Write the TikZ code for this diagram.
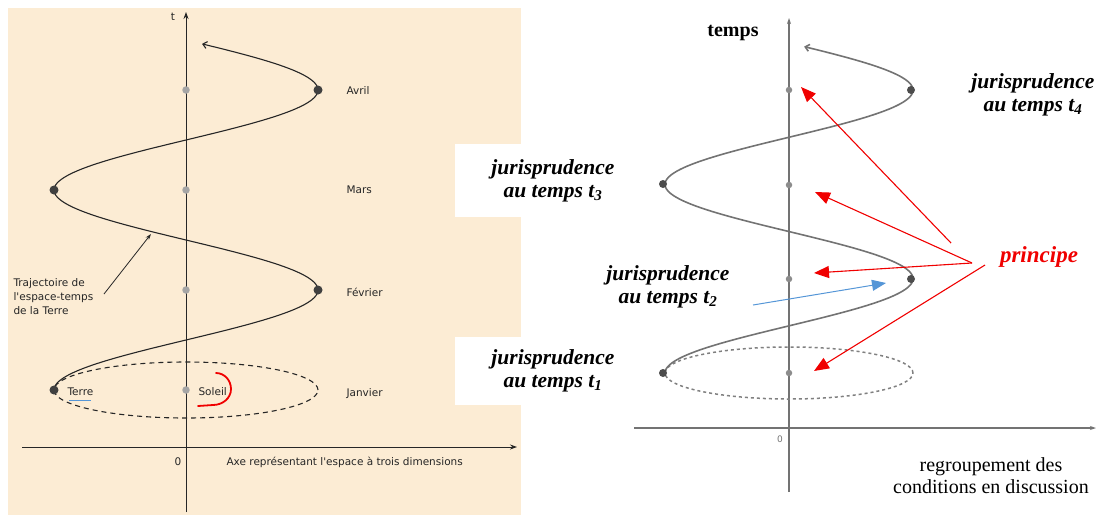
\documentclass[tikz,border=0pt]{standalone}
\usepackage{fontspec}
\setmainfont{Liberation Serif}
\newfontfamily\scanfont{DejaVu Sans}
\usetikzlibrary{arrows.meta}
\definecolor{beige}{RGB}{252,236,212}
\definecolor{rouge}{RGB}{240,0,0}
\definecolor{bleu}{RGB}{85,150,215}

\begin{document}
\begin{tikzpicture}[x=1pt, y=-1pt, >=Stealth,
  scan/.style={font=\scanfont\fontsize{10.5}{14}\selectfont, text=black!85},
  juris/.style={font=\fontsize{21.5}{23}\selectfont\bfseries\itshape, align=center},
  courbe/.style={line width=1.1pt, black!85},
  courbegris/.style={line width=1.6pt, black!55},
  axe/.style={line width=0.9pt, black!85},
  axegris/.style={line width=1.3pt, black!55},
  pointaxe/.style={circle, fill=black!35, inner sep=0pt, minimum size=7.5pt},
  pointterre/.style={circle, fill=black!75, inner sep=0pt, minimum size=9pt},
  fleche/.style={rouge, line width=1.1pt, -{Triangle[length=15pt,width=12pt]}}]

\useasboundingbox (0,0) rectangle (1100,515);

% Schéma scanné (gauche)
\fill[beige] (8,8) rectangle (521,515);

% Axes
\draw[axe, -{Stealth[length=7pt,width=5pt]}] (186,512) -- (186,12);
\draw[axe, -{Stealth[length=7pt,width=5pt]}] (22,447) -- (517,447);
\node[scan] (t) at (173,17) {t};
\node[scan] (zero) at (178,462) {0};
\node[scan, anchor=west] (axe) at (223,462) {Axe représentant l'espace à trois dimensions};

% Orbite et trajectoire
\draw[courbe, dash pattern=on 5pt off 4pt] (186,390) ellipse [x radius=132pt, y radius=28pt];
\draw[courbe, -{Straight Barb[length=4pt,width=7pt]}]
  plot[domain=pi:4*pi+1.45, samples=200, variable=\t]
  ({186+132*cos(\t r)}, {390-100*(\t-pi)/pi});

\foreach \n/\y in {1/390,2/290,3/190,4/90}
  \node[pointaxe] (sol\n) at (186,\y) {};
\foreach \n/\x/\y in {1/54/390,2/318/290,3/54/190,4/318/90}
  \node[pointterre] (terre\n) at (\x,\y) {};
\foreach \n/\m/\y in {1/Janvier/394,2/Février/292,3/Mars/190,4/Avril/91}
  \node[scan, anchor=west] (mois\n) at (343,\y) {\m};

\node[scan, anchor=west] (terre) at (64,392) {Terre};
\node[scan, anchor=west] (soleil) at (195,392) {Soleil};
\draw[bleu, line width=1.8pt] (terre.south west) ++(5,1) coordinate (souA) -- ++(22,0) coordinate (souB);
\draw[rouge, line width=1.8pt, line cap=round] (216,373) to[out=0,in=90] (231,389)
  to[out=-90,in=0] (213,405) -- (198,406);

\node[scan, anchor=north west, align=left] (traj) at (10,275)
  {Trajectoire de\\l'espace-temps\\de la Terre};
\coordinate (trajA) at (104,294);
\coordinate (trajB) at (151,234);
\draw[black!85, line width=0.8pt, -{Stealth[length=6pt,width=4pt]}] (trajA) -- (trajB);

% Schéma repris (droite)
\draw[axegris, -{Stealth[length=6pt,width=4pt]}] (789,492) -- (789,18);
\draw[axegris, -{Stealth[length=6pt,width=4pt]}] (634,428) -- (1096,428);
\node[font=\scanfont\fontsize{9}{11}\selectfont, text=black!55] (zerob) at (780,439) {0};
\node[font=\fontsize{20}{24}\selectfont\bfseries] (temps) at (733,33) {temps};

\draw[black!50, line width=1.5pt, dash pattern=on 3pt off 3pt] (789,373) ellipse [x radius=124pt, y radius=26pt];
\draw[courbegris, -{Straight Barb[length=4pt,width=7pt]}]
  plot[domain=pi:4*pi+1.45, samples=200, variable=\t]
  ({789+124*cos(\t r)}, {373-94.3*(\t-pi)/pi});

\foreach \n/\y in {1/373,2/279,3/185,4/90}
  \node[pointaxe, fill=black!45, minimum size=6.5pt] (axe\n) at (789,\y) {};
\foreach \n/\x/\y in {1/663/373,2/911/279,3/663/184,4/911/90}
  \node[pointterre, fill=black!70, minimum size=8pt] (juge\n) at (\x,\y) {};

% Étiquettes
\node[juris, fill=white, minimum width=196pt, minimum height=68pt] (juris1) at (553,371)
  {jurisprudence\\au temps t\textsubscript{1}};
\node[juris] (juris2) at (668,287) {jurisprudence\\au temps t\textsubscript{2}};
\node[juris, fill=white, minimum width=196pt, minimum height=73pt] (juris3) at (553,180.5)
  {jurisprudence\\au temps t\textsubscript{3}};
\node[juris] (juris4) at (1033,95) {jurisprudence\\au temps t\textsubscript{4}};

\node[font=\fontsize{20}{22}\selectfont, align=center] (regroup) at (991,476)
  {regroupement des\\conditions en discussion};

% Principe
\node[text=rouge, font=\fontsize{23}{26}\selectfont\bfseries\itshape] (principe) at (1039,257) {principe};
\coordinate (pA) at (951,243);
\coordinate (pB) at (972,263);
\coordinate (pC) at (985,265);
\coordinate (cible4) at (801,87);
\coordinate (cible3) at (815,192);
\coordinate (cible2) at (814,273);
\coordinate (cible1) at (814,371);
\draw[fleche] (pA) -- (cible4);
\draw[fleche] (pB) -- (cible3);
\draw[fleche] (pB) -- (cible2);
\draw[fleche] (pC) -- (cible1);

\coordinate (bleuA) at (753,305);
\coordinate (bleuB) at (886,283);
\draw[bleu, line width=1pt, -{Triangle[length=14pt,width=11pt]}] (bleuA) -- (bleuB);

\end{tikzpicture}
\end{document}
